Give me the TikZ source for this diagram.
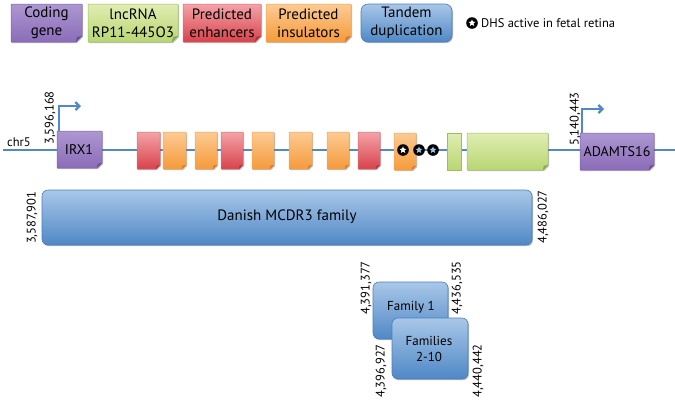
\documentclass[tikz,border=0pt]{standalone}
\usepackage{fontspec}
\setmainfont{PT Sans}
\usetikzlibrary{shadows,shapes.geometric,arrows.meta}
\definecolor{purT}{HTML}{AD97D1}\definecolor{purB}{HTML}{8A6CB8}\definecolor{purD}{HTML}{7D62AB}\definecolor{purF}{HTML}{6A5193}
\definecolor{grnT}{HTML}{E0EDB3}\definecolor{grnB}{HTML}{B9D672}\definecolor{grnD}{HTML}{9DBE5C}\definecolor{grnF}{HTML}{8CAA4E}
\definecolor{redT}{HTML}{F4A3A8}\definecolor{redB}{HTML}{D8424B}\definecolor{redD}{HTML}{DA6D73}\definecolor{redF}{HTML}{B3343C}
\definecolor{oraT}{HTML}{FCCB93}\definecolor{oraB}{HTML}{F59A3A}\definecolor{oraD}{HTML}{F3A55A}\definecolor{oraF}{HTML}{D07D25}
\definecolor{bluT}{HTML}{A9C7E8}\definecolor{bluB}{HTML}{4F88C6}\definecolor{bluD}{HTML}{4A7EBB}
\definecolor{chrline}{HTML}{4F8AC7}
\definecolor{starblue}{HTML}{9CC3E5}
\tikzset{
  shad/.style={drop shadow={shadow xshift=1pt,shadow yshift=-1.2pt,opacity=0.25,fill=black}},
  lbl/.style={font=\fontsize{12.5}{14}\selectfont, rotate=90, inner sep=0},
  legtxt/.style={font=\fontsize{15}{18}\selectfont, align=center, inner sep=0},
  genetxt/.style={font=\fontsize{14}{16}\selectfont, inner sep=0},
  famtxt/.style={font=\fontsize{13}{16.5}\selectfont, align=center, inner sep=0},
  blueline/.style={draw=chrline, line width=2.6pt},
  tandembox/.style={shad, rounded corners=6pt, top color=bluT, bottom color=bluB, draw=bluD, line width=0.6pt},
  dhsstar/.style={star, star points=5, star point ratio=2.3, minimum size=7.5pt, inner sep=0},
}
\newcommand\foldshape[6]{%
  \path[shad, top color=#5T, bottom color=#5B, draw=#5D, line width=0.5pt]
    (#1,#2) -- (#3,#2) -- (#3,#4-#6) -- (#3-#6,#4) -- (#1,#4) -- cycle;
  \fill[#5F] (#3,#4-#6) -- (#3-#6,#4) -- (#3-0.85*#6,#4-0.85*#6) -- cycle;
}
\newcommand\dhsmark[3]{%
  \fill[black] (#1,#2) circle (5.8pt);
  \node[dhsstar, fill=#3] at (#1,#2) {};
}
\begin{document}
\begin{tikzpicture}[x=1pt,y=-1pt]
\useasboundingbox (0,0) rectangle (675,400);
% legend
\foldshape{11}{4}{82}{42}{pur}{6}
\node[legtxt] (lg1) at (46.5,23) {Coding\\gene};
\foldshape{88}{4}{178}{42}{grn}{6}
\node[legtxt] (lg2) at (133,23) {lncRNA\\RP11-445O3};
\foldshape{183}{4}{261}{42}{red}{6}
\node[legtxt] (lg3) at (222,23) {Predicted\\enhancers};
\foldshape{266}{4}{351}{42}{ora}{6}
\node[legtxt] (lg4) at (308.5,23) {Predicted\\insulators};
\path[tandembox, rounded corners=7pt] (361,4) rectangle (452,42);
\node[legtxt] (lg5) at (406.5,23) {Tandem\\duplication};
\dhsmark{472}{23}{white}
\node[font=\fontsize{12.5}{14}\selectfont, anchor=west, inner sep=0] (lg6) at (481,23) {DHS active in fetal retina};
% chromosome
\coordinate (chrL) at (3,150);
\coordinate (chrR) at (675,150);
\draw[blueline] (chrL) -- (chrR);
\node[font=\fontsize{12.5}{14}\selectfont, anchor=base west, inner sep=0] (chr) at (7,146) {chr5};
% IRX1
\coordinate (irxA) at (59,131);
\coordinate (irxB) at (81,106);
\draw[blueline, line width=2.3pt, -{Straight Barb[length=4pt,width=8pt]}] (irxA) |- (irxB);
\foldshape{57}{131}{102}{168}{pur}{5}
\node[genetxt] (irx) at (79,149.5) {IRX1};
\node[lbl] (p1) at (50,118) {3,596,168};
% ADAMTS16
\coordinate (adA) at (582,133);
\coordinate (adB) at (604,109);
\draw[blueline, line width=2.3pt, -{Straight Barb[length=4pt,width=8pt]}] (adA) |- (adB);
\foldshape{580}{133}{654}{170}{pur}{5}
\node[genetxt] (adam) at (617,151.5) {ADAMTS16};
\node[lbl] (p2) at (575,119) {5,140,443};
% elements
\foldshape{137}{132}{160}{169}{red}{4}
\foldshape{163}{132}{186}{169}{ora}{4}
\foldshape{195}{132}{217}{169}{ora}{4}
\foldshape{221}{132}{243}{169}{red}{4}
\foldshape{252}{132}{274}{169}{ora}{4}
\foldshape{289}{132}{312}{169}{ora}{4}
\foldshape{327}{132}{349}{169}{ora}{4}
\foldshape{358}{132}{380}{169}{red}{4}
\foldshape{394}{133}{416}{170}{ora}{4}
\path[shad, top color=grnT, bottom color=grnB, draw=grnD, line width=0.6pt] (447,133) rectangle (461,170);
\foldshape{467}{133}{548}{170}{grn}{5}
\dhsmark{403}{150}{white}
\dhsmark{419}{150}{starblue}
\dhsmark{433}{150}{starblue}
% Danish family
\path[tandembox] (42,190) rectangle (532,245);
\node[font=\fontsize{15}{17}\selectfont, inner sep=0] (danish) at (287,217) {Danish MCDR3 family};
\node[lbl] (p3) at (32,218) {3,587,901};
\node[lbl] (p4) at (543,217) {4,486,027};
% Family 1 and 2-10
\path[tandembox] (373,282) rectangle (448,339);
\node[famtxt] (fam1) at (411,307) {Family 1};
\path[tandembox] (392,318) rectangle (468,379);
\node[famtxt] (fam2) at (429,349) {Families\\2-10};
\node[lbl] (p5) at (366,288) {4,391,377};
\node[lbl] (p6) at (457,288) {4,436,535};
\node[lbl] (p7) at (381,371) {4,396,927};
\node[lbl] (p8) at (478,371) {4,440,442};
\end{tikzpicture}
\end{document}
